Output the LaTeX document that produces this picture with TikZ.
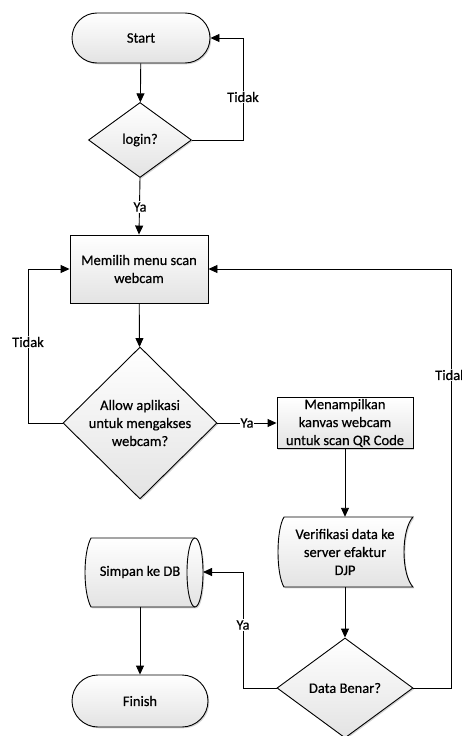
\documentclass[tikz,border=0pt]{standalone}
\usepackage{fontspec}
\setmainfont{Carlito}[FakeBold=0.5]
\usetikzlibrary{shapes.geometric,shapes.misc,arrows.meta,shadows}

\tikzset{
  x=1pt, y=-1pt,
  txt/.style={font=\fontsize{14.5}{18}\selectfont, align=center},
  fillbox/.style={draw, line width=0.9pt, top color=white, bottom color=gray!22,
    drop shadow={shadow xshift=1.3pt, shadow yshift=-1.3pt, opacity=0.35, fill=gray}},
  base/.style={fillbox, txt, inner sep=0pt},
  term/.style={base, rounded rectangle, minimum width=138pt, minimum height=50pt},
  proc/.style={base, rectangle, minimum width=138pt, minimum height=68pt},
  dec/.style={base, diamond, aspect=1},
  plain/.style={txt, inner sep=0pt},
  lbl/.style={txt, fill=white, inner sep=1pt},
  arr/.style={line width=0.9pt, -{Triangle[length=9pt,width=8pt]}},
  ln/.style={line width=0.9pt}
}

\begin{document}
\begin{tikzpicture}
\useasboundingbox (0,0) rectangle (462,736);
\clip (0,0) rectangle (462,736);

% terminators and process boxes
\node[term] (start) at (141,38) {Start};
\node[dec, minimum width=103pt, minimum height=75pt] (login) at (140,140) {login?};
\node[proc] (menu) at (139,269) {Memilih menu scan\\webcam};
\node[dec, minimum width=154pt, minimum height=152pt, inner sep=-12pt] (allow) at (140,423)
  {Allow aplikasi\\untuk mengakses\\webcam?};
\node[base, rectangle, minimum width=136pt, minimum height=51pt] (tampil) at (345,423)
  {Menampilkan\\kanvas webcam\\untuk scan QR Code};

% stored-data outline with its text
\path[fillbox] (284,517) -- (413,517) .. controls (401,530) and (401,574) .. (413,587)
  -- (284,587) .. controls (276,574) and (276,530) .. (284,517) -- cycle;
\node[plain, minimum width=134pt, minimum height=70pt] (verif) at (345,552)
  {Verifikasi data ke\\server efaktur\\DJP};

\node[dec, minimum width=136pt, minimum height=100pt] (benar) at (345,688) {Data Benar?};

% database cylinder lying on its side
\path[fillbox] (91,538) -- (195,538)
  arc[start angle=90, end angle=-90, x radius=8pt, y radius=34.5pt]
  -- (91,607) .. controls (83,592) and (83,553) .. (91,538) -- cycle;
\draw[ln] (195,538) arc[start angle=90, end angle=270, x radius=8pt, y radius=34.5pt];
\node[plain, minimum width=118pt, minimum height=69pt] (simpan) at (140,572) {Simpan ke DB};
\coordinate (dbend) at (203,572);

\node[term, minimum width=136pt, minimum height=52pt] (finish) at (140,701) {Finish};

% bend points
\coordinate (r1) at (243,140);
\coordinate (l1) at (28,423);
\coordinate (r2) at (451,688);
\coordinate (l2) at (243,688);

% connectors
\draw[arr] (start) -- (login);
\draw[arr] (login.east) -- (r1) |- (start.east);
\node[lbl] at (243,97) {Tidak};

\draw[arr] (login.south) -- (menu.north);
\node[lbl] at (140,207) {Ya};

\draw[arr] (menu) -- (allow);
\draw[arr] (allow.west) -- (l1) |- (menu.west);
\node[lbl] at (28,342) {Tidak};

\draw[arr] (allow.east) -- (tampil.west);
\node[lbl, inner sep=0.5pt] at (247,423) {Ya};

\draw[arr] (tampil.south) -- (verif.north);
\draw[arr] (verif.south) -- (benar.north);

\draw[arr] (benar.east) -- (r2) |- (menu.east);
\node[lbl] at (451,375) {Tidak};

\draw[arr] (benar.west) -- (l2) |- (dbend);
\node[lbl] at (243,625) {Ya};

\draw[arr] (simpan.south) -- (finish.north);
\end{tikzpicture}
\end{document}
